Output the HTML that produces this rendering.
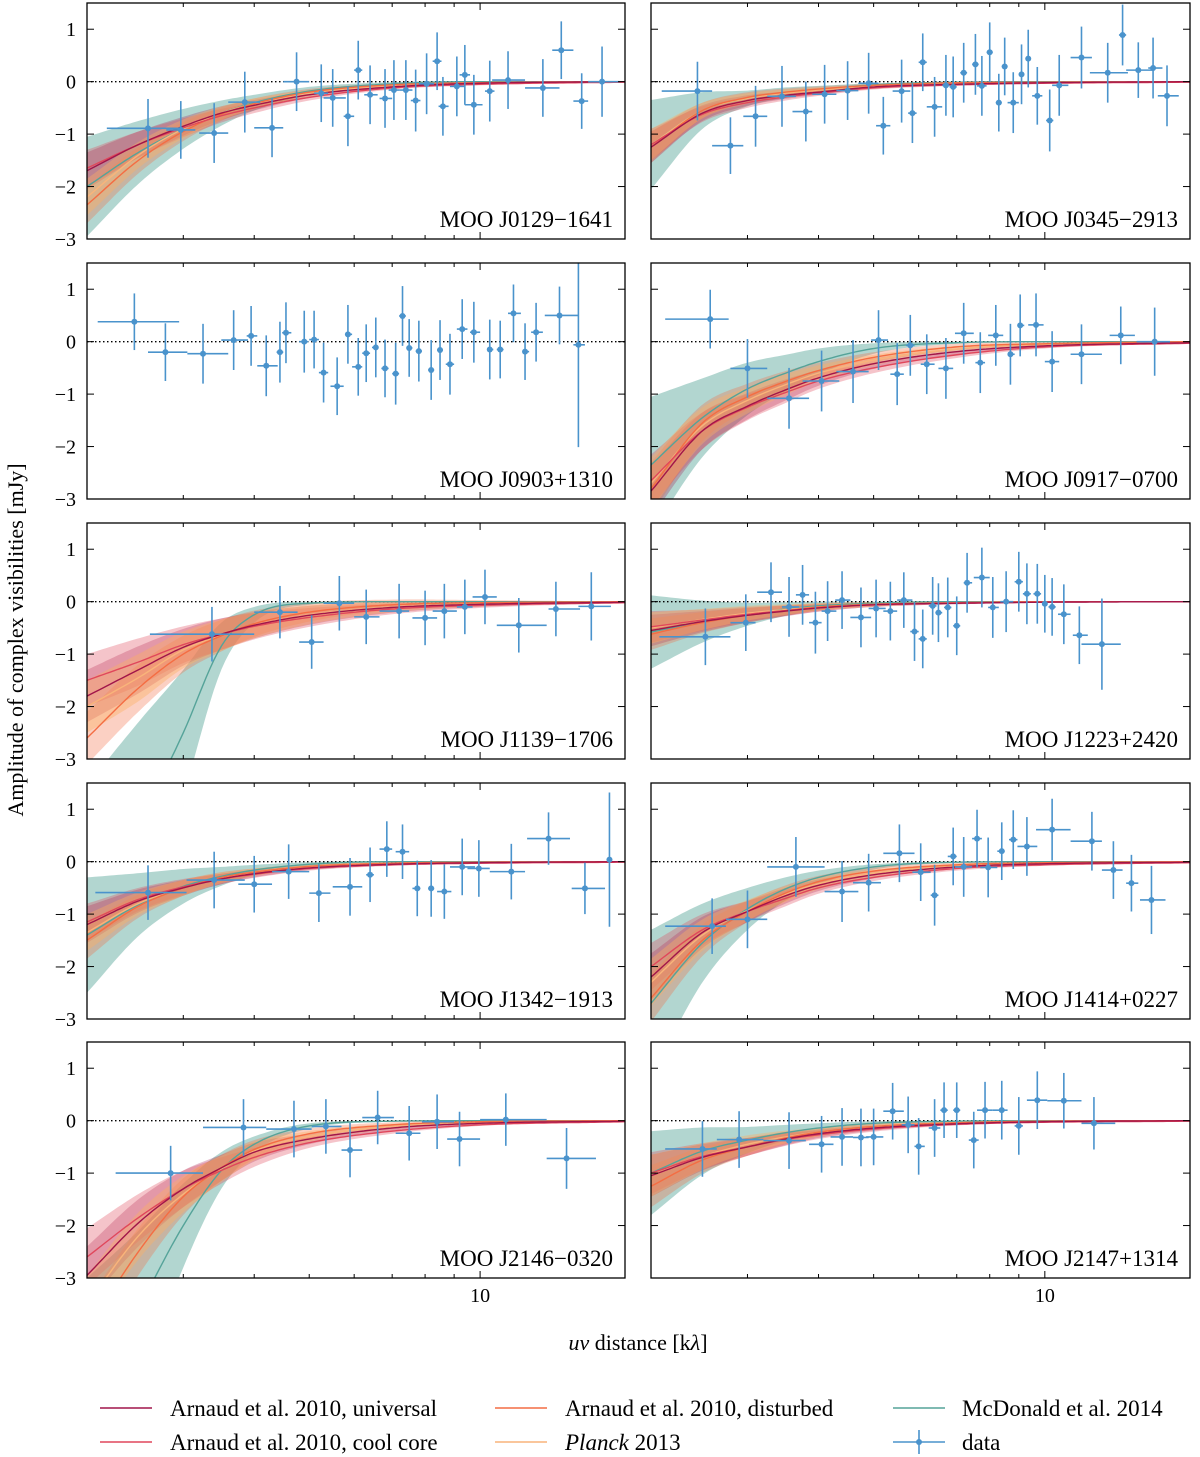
<!DOCTYPE html>
<html><head><meta charset="utf-8">
<style>
html,body{margin:0;padding:0;background:#fff;width:1200px;height:1457px;overflow:hidden;}
svg{display:block;font-family:"Liberation Serif","DejaVu Serif",serif;}
</style></head>
<body>
<svg id="fig" width="1200" height="1457" viewBox="0 0 1200 1457" xmlns="http://www.w3.org/2000/svg">
<defs id="defs"></defs>
<g id="panels"></g>
<text x="0" y="0" transform="translate(23,640) rotate(-90)" text-anchor="middle" font-size="22">Amplitude of complex visibilities [mJy]</text>
<text x="638" y="1350" text-anchor="middle" font-size="22"><tspan font-style="italic">uv</tspan> distance [k<tspan font-style="italic">λ</tspan>]</text>
<g font-size="23">
  <g><line x1="100" y1="1408" x2="152" y2="1408" stroke="#a1154a" stroke-width="1.5"/><text x="170" y="1416">Arnaud et al. 2010, universal</text></g>
  <g><line x1="100" y1="1442" x2="152" y2="1442" stroke="#e0475b" stroke-width="1.5"/><text x="170" y="1450">Arnaud et al. 2010, cool core</text></g>
  <g><line x1="495" y1="1408" x2="547" y2="1408" stroke="#f46d43" stroke-width="1.5"/><text x="565" y="1416">Arnaud et al. 2010, disturbed</text></g>
  <g><line x1="495" y1="1442" x2="547" y2="1442" stroke="#f9b47a" stroke-width="1.5"/><text x="565" y="1450"><tspan font-style="italic">Planck</tspan> 2013</text></g>
  <g><line x1="893" y1="1408" x2="945" y2="1408" stroke="#55a399" stroke-width="1.5"/><text x="962" y="1416">McDonald et al. 2014</text></g>
  <g><line x1="893" y1="1442" x2="945" y2="1442" stroke="#4a93cc" stroke-width="1.6"/><line x1="919" y1="1430" x2="919" y2="1454" stroke="#4a93cc" stroke-width="1.6"/><circle cx="919" cy="1442" r="3" fill="#4a93cc"/><text x="962" y="1450">data</text></g>
</g>
</svg>
<script>
// model grid (uv distance, kλ)
const uGrid=[2.03,2.5,3,3.5,4,5,7,10,18];

// ---- Panel 1: MOO J0129-1641
const u1=[2.6,2.97,3.4,3.85,4.3,4.75,5.25,5.5,5.85,6.1,6.4,6.8,7.05,7.4,7.7,8.05,8.4,8.6,9.1,9.4,9.75,10.4,11.2,12.9,13.9,15.1,16.4];
const y1=[-0.89,-0.92,-0.98,-0.39,-0.88,0.0,-0.22,-0.31,-0.66,0.22,-0.25,-0.32,-0.16,-0.16,-0.36,-0.04,0.39,-0.47,-0.09,0.13,-0.44,-0.18,0.03,-0.12,0.6,-0.37,0.0];
const lo1=[2.2,2.8,3.2,3.6,4.0,4.5,5.1,5.3,5.75,6.0,6.25,6.65,6.9,7.2,7.55,7.8,8.25,8.45,8.85,9.2,9.4,10.2,10.5,12.0,13.4,14.6,15.5];
const hi1=[2.95,3.15,3.6,4.1,4.5,5.0,5.4,5.8,6.0,6.2,6.6,7.0,7.2,7.6,7.85,8.3,8.55,8.8,9.4,9.6,10.1,10.6,12.0,13.8,14.6,15.5,17.6];
const e1=[.56,.55,.57,.58,.56,.56,.55,.55,.57,.56,.56,.56,.57,.57,.59,.58,.55,.56,.57,.57,.57,.58,.55,.55,.55,.53,.67];
const uni1=[-1.7,-1.2,-0.85,-0.6,-0.45,-0.25,-0.1,-0.03,0];
const cc1=[-1.65,-1.2,-0.88,-0.65,-0.5,-0.3,-0.12,-0.05,-0.01];
const dis1=[-2.35,-1.5,-0.95,-0.62,-0.42,-0.2,-0.06,-0.02,0];
const pl1=[-2.2,-1.4,-0.9,-0.6,-0.42,-0.22,-0.07,-0.02,0];
const mcd1=[-2.0,-1.35,-0.9,-0.6,-0.4,-0.18,-0.04,0,0];
const tw1=[0.95,0.6,0.38,0.24,0.15,0.08,0.03,0.01,0];
const ww1=[.35,.25,.18,.13,.1,.06,.03,.02,0];

// ---- Panel 2: MOO J0345-2913
const u2=[2.45,2.8,3.1,3.45,3.8,4.1,4.5,4.9,5.2,5.6,5.85,6.1,6.4,6.7,6.9,7.2,7.55,7.75,8.0,8.3,8.5,8.8,9.1,9.35,9.7,10.2,10.6,11.6,12.9,13.7,14.6,15.5,16.4];
const y2=[-0.18,-1.22,-0.66,-0.28,-0.57,-0.24,-0.17,-0.03,-0.84,-0.18,-0.6,0.37,-0.48,-0.07,-0.1,0.17,0.33,-0.08,0.56,-0.4,0.29,-0.4,0.14,0.44,-0.27,-0.74,-0.07,0.46,0.17,0.89,0.22,0.26,-0.27];
const lo2=[2.12,2.6,2.95,3.25,3.6,3.9,4.3,4.7,5.05,5.4,5.75,6.0,6.2,6.6,6.8,7.1,7.45,7.6,7.9,8.2,8.4,8.6,9.0,9.25,9.5,10.05,10.3,11.1,12.0,13.5,13.9,15.2,15.8];
const hi2=[2.6,2.95,3.25,3.65,3.9,4.3,4.7,5.1,5.35,5.8,5.95,6.2,6.6,6.8,7.0,7.3,7.65,7.9,8.1,8.4,8.6,9.0,9.2,9.45,9.9,10.35,11.0,12.1,14.0,13.9,15.5,16.1,17.2];
const e2=[.56,.54,.58,.58,.57,.56,.56,.58,.55,.6,.57,.55,.57,.58,.58,.57,.58,.57,.57,.55,.55,.58,.57,.55,.55,.59,.58,.59,.57,.58,.53,.58,.58];
const uni2=[-1.25,-0.6,-0.36,-0.26,-0.2,-0.1,-0.05,-0.02,0];
const cc2=[-1.2,-0.62,-0.4,-0.29,-0.22,-0.12,-0.06,-0.03,-0.01];
const dis2=[-1.25,-0.55,-0.3,-0.2,-0.14,-0.07,-0.02,-0.01,0];
const pl2=[-1.2,-0.55,-0.32,-0.22,-0.16,-0.08,-0.03,-0.01,0];
const mcd2=[-1.2,-0.55,-0.32,-0.21,-0.15,-0.06,-0.01,0,0];
const tw2=[.85,.35,.15,.1,.07,.03,.01,0,0];
const ww2=[.3,.15,.1,.07,.05,.03,.02,.01,0];

// ---- Panel 3: MOO J0903+1310 (no models)
const u3=[2.46,2.79,3.25,3.68,3.95,4.2,4.44,4.55,4.9,5.1,5.3,5.6,5.85,6.1,6.3,6.55,6.8,7.1,7.3,7.5,7.8,8.2,8.5,8.85,9.3,9.75,10.4,10.85,11.45,12.0,12.55,13.8,14.9];
const y3=[0.38,-0.2,-0.23,0.03,0.11,-0.46,-0.2,0.17,0.0,0.04,-0.59,-0.85,0.14,-0.48,-0.22,-0.11,-0.51,-0.61,0.49,-0.12,-0.18,-0.54,-0.16,-0.43,0.24,0.18,-0.15,-0.15,0.54,-0.19,0.18,0.5,-0.06];
const lo3=[2.12,2.6,3.05,3.5,3.88,4.05,4.38,4.48,4.8,5.0,5.2,5.45,5.78,5.95,6.2,6.45,6.7,7.0,7.2,7.45,7.7,8.1,8.4,8.7,9.1,9.6,10.3,10.7,11.2,11.9,12.3,13.0,14.6];
const hi3=[2.95,3.05,3.6,3.9,4.05,4.4,4.5,4.65,4.98,5.2,5.4,5.75,5.95,6.2,6.4,6.6,6.9,7.2,7.4,7.6,7.9,8.3,8.6,9.0,9.5,10.0,10.55,11.0,11.8,12.2,12.9,14.9,15.3];
const e3=[.54,.55,.57,.57,.57,.58,.58,.58,.59,.55,.57,.55,.56,.55,.55,.57,.55,.59,.57,.55,.58,.57,.57,.58,.57,.58,.57,.55,.55,.54,.56,.55,1.95];

// ---- Panel 4: MOO J0917-0700
const u4=[2.58,3.0,3.55,4.05,4.6,5.1,5.5,5.8,6.2,6.7,7.2,7.7,8.2,8.7,9.05,9.65,10.3,11.6,13.6,15.6];
const y4=[0.43,-0.51,-1.08,-0.75,-0.57,0.03,-0.62,-0.07,-0.43,-0.51,0.16,-0.4,0.12,-0.24,0.31,0.32,-0.38,-0.24,0.12,0.0];
const lo4=[2.15,2.8,3.25,3.75,4.3,4.95,5.35,5.7,6.05,6.5,6.95,7.55,7.95,8.6,8.95,9.35,10.0,11.1,13.0,14.5];
const hi4=[2.78,3.25,3.85,4.35,4.9,5.3,5.65,5.9,6.4,6.9,7.5,7.85,8.45,8.85,9.2,9.95,10.6,12.6,14.4,16.6];
const e4=[.56,.56,.58,.58,.6,.57,.59,.58,.57,.58,.58,.58,.58,.58,.59,.6,.58,.57,.55,.65];
const uni4=[-2.85,-1.7,-1.23,-0.92,-0.69,-0.42,-0.19,-0.08,-0.02];
const cc4=[-2.65,-1.7,-1.25,-0.97,-0.75,-0.5,-0.25,-0.1,-0.03];
const dis4=[-2.8,-1.55,-1.05,-0.76,-0.55,-0.3,-0.1,-0.04,0];
const pl4=[-2.7,-1.6,-1.12,-0.82,-0.6,-0.35,-0.14,-0.05,0];
const mcd4=[-2.35,-1.45,-0.9,-0.6,-0.38,-0.13,-0.02,0,0];
const tw4=[1.3,.75,.5,.35,.25,.1,.02,0,0];
const ww4=[.5,.35,.25,.2,.15,.1,.06,.03,0];

// ---- Panel 5: MOO J1139-1706
const u5=[3.37,4.44,5.05,5.65,6.3,7.2,8.0,8.65,9.4,10.2,11.7,13.6,15.7];
const y5=[-0.62,-0.2,-0.77,-0.03,-0.29,-0.18,-0.31,-0.18,-0.1,0.09,-0.45,-0.14,-0.09];
const lo5=[2.62,4.0,4.8,5.3,6.0,6.65,7.6,8.25,9.1,9.7,10.7,13.2,14.9];
const hi5=[4.0,4.77,5.3,6.0,6.65,7.5,8.4,9.1,9.7,10.7,13.1,15.0,17.0];
const e5=[.52,.5,.51,.52,.52,.52,.52,.52,.52,.52,.52,.52,.65];
const uni5=[-1.8,-1.3,-0.87,-0.62,-0.45,-0.26,-0.11,-0.05,-0.01];
const cc5=[-1.5,-1.15,-0.82,-0.62,-0.47,-0.3,-0.14,-0.07,-0.02];
const dis5=[-2.6,-1.65,-1.0,-0.65,-0.42,-0.2,-0.06,-0.02,0];
const pl5=[-2.0,-1.45,-0.92,-0.64,-0.45,-0.25,-0.1,-0.04,0];
const mcd5=[-6.5,-4.3,-2.5,-0.85,-0.25,-0.03,0,0,0];
const tw5=[3,2,1.2,0.45,0.15,0.03,0,0,0];
const ww5=[.5,.45,.35,.3,.25,.18,.1,.05,0];

// ---- Panel 6: MOO J1223+2420
const u6=[2.53,2.98,3.3,3.55,3.75,3.95,4.15,4.4,4.75,5.05,5.35,5.65,5.9,6.1,6.35,6.5,6.75,7.0,7.3,7.75,8.1,8.55,9.0,9.3,9.7,10.0,10.3,10.8,11.5,12.6];
const y6=[-0.67,-0.4,0.18,-0.1,0.13,-0.4,-0.18,0.03,-0.3,-0.13,-0.18,0.03,-0.57,-0.71,-0.08,-0.21,-0.11,-0.46,0.36,0.46,-0.11,0.0,0.38,0.15,0.15,-0.04,-0.1,-0.24,-0.64,-0.81];
const lo6=[2.1,2.8,3.12,3.45,3.65,3.85,4.05,4.28,4.55,4.9,5.2,5.5,5.8,6.0,6.25,6.42,6.65,6.9,7.2,7.5,7.95,8.35,8.85,9.15,9.55,9.9,10.15,10.55,11.2,11.6];
const hi6=[2.8,3.1,3.45,3.7,3.85,4.05,4.3,4.55,4.95,5.25,5.5,5.85,6.0,6.2,6.45,6.6,6.85,7.1,7.45,8.0,8.3,8.8,9.15,9.45,9.85,10.1,10.45,11.1,11.9,13.6];
const e6=[.54,.54,.57,.57,.57,.59,.57,.55,.57,.55,.56,.53,.56,.56,.55,.56,.57,.56,.57,.57,.58,.58,.57,.58,.57,.55,.55,.57,.55,.87];
const uni6=[-0.55,-0.38,-0.26,-0.18,-0.12,-0.06,-0.03,-0.01,0];
const cc6=[-0.48,-0.35,-0.24,-0.17,-0.12,-0.06,-0.03,-0.01,0];
const dis6=[-0.62,-0.4,-0.26,-0.17,-0.1,-0.05,-0.02,0,0];
const pl6=[-0.5,-0.34,-0.22,-0.15,-0.1,-0.05,-0.02,0,0];
const mcd6=[-0.58,-0.38,-0.24,-0.14,-0.08,-0.03,0,0,0];
const tw6=[.7,.4,.22,.13,.08,.03,.01,0,0];
const ww6=[.3,.2,.14,.1,.07,.04,.02,.01,0];

// ---- Panel 7: MOO J1342-1913
const u7=[2.6,3.4,4.0,4.6,5.2,5.9,6.4,6.85,7.3,7.75,8.2,8.65,9.3,9.95,11.35,13.2,15.3,16.9];
const y7=[-0.59,-0.35,-0.43,-0.19,-0.6,-0.48,-0.25,0.24,0.19,-0.51,-0.51,-0.57,-0.1,-0.13,-0.19,0.44,-0.51,0.04];
const lo7=[2.1,3.04,3.75,4.3,5.0,5.5,6.3,6.65,7.1,7.6,8.1,8.4,8.85,9.5,10.4,12.1,14.5,16.8];
const hi7=[3.04,3.85,4.3,5.0,5.45,6.2,6.5,7.0,7.5,7.85,8.3,8.9,9.8,10.4,12.0,14.4,16.6,17.0];
const e7=[.52,.54,.54,.52,.55,.55,.52,.53,.52,.53,.54,.52,.54,.54,.53,.5,.49,1.28];
const uni7=[-1.2,-0.75,-0.5,-0.33,-0.23,-0.12,-0.05,-0.02,0];
const cc7=[-1.15,-0.72,-0.48,-0.33,-0.24,-0.13,-0.06,-0.03,-0.01];
const dis7=[-1.5,-0.85,-0.5,-0.3,-0.2,-0.09,-0.03,-0.01,0];
const pl7=[-1.35,-0.8,-0.5,-0.31,-0.2,-0.09,-0.03,-0.01,0];
const mcd7=[-1.4,-0.82,-0.47,-0.28,-0.16,-0.05,0,0,0];
const tw7=[1.1,.6,.33,.18,.1,.04,.01,0,0];
const ww7=[.35,.22,.15,.1,.07,.04,.02,.01,0];

// ---- Panel 8: MOO J1414+0227
const u8=[2.6,3.0,3.65,4.4,4.9,5.55,6.05,6.4,6.9,7.2,7.6,7.95,8.4,8.8,9.3,10.3,12.1,13.2,14.2,15.4];
const y8=[-1.23,-1.1,-0.1,-0.57,-0.4,0.16,-0.2,-0.64,0.1,-0.1,0.44,-0.11,0.2,0.42,0.29,0.61,0.39,-0.16,-0.41,-0.73];
const lo8=[2.15,2.75,3.25,4.1,4.6,5.2,5.85,6.3,6.75,6.95,7.45,7.7,8.25,8.65,8.95,9.65,11.1,12.6,13.9,14.7];
const hi8=[2.75,3.25,4.1,4.7,5.15,5.9,6.3,6.5,7.0,7.45,7.75,8.25,8.5,8.95,9.7,11.1,12.6,13.7,14.6,16.3];
const e8=[.53,.55,.57,.58,.55,.55,.55,.58,.55,.57,.55,.57,.55,.56,.56,.59,.56,.55,.54,.65];
const uni8=[-2.2,-1.35,-0.95,-0.65,-0.45,-0.25,-0.1,-0.04,-0.01];
const cc8=[-2.0,-1.3,-0.95,-0.7,-0.5,-0.3,-0.13,-0.06,-0.02];
const dis8=[-2.6,-1.5,-0.95,-0.6,-0.38,-0.18,-0.06,-0.02,0];
const pl8=[-2.3,-1.4,-0.93,-0.62,-0.42,-0.22,-0.08,-0.03,0];
const mcd8=[-2.7,-1.55,-0.9,-0.52,-0.3,-0.1,-0.01,0,0];
const tw8=[1.4,.75,.4,.22,.13,.05,.01,0,0];
const ww8=[.45,.3,.2,.15,.11,.07,.04,.02,0];

// ---- Panel 9: MOO J2146-0320
const u9=[2.85,3.83,4.7,5.35,5.9,6.6,7.5,8.4,9.2,11.1,14.2];
const y9=[-1.0,-0.13,-0.16,-0.11,-0.56,0.06,-0.24,-0.02,-0.35,0.02,-0.72];
const lo9=[2.28,3.25,4.2,5.05,5.7,6.2,7.1,7.9,8.75,10.0,13.1];
const hi9=[3.25,4.2,5.05,5.7,6.2,7.05,7.85,9.0,10.0,13.1,16.0];
const e9=[.52,.54,.54,.52,.52,.51,.52,.52,.52,.5,.58];
const uni9=[-2.95,-1.95,-1.3,-0.9,-0.6,-0.35,-0.14,-0.05,-0.01];
const cc9=[-2.6,-1.85,-1.3,-0.95,-0.7,-0.42,-0.2,-0.08,-0.02];
const dis9=[-4.0,-2.5,-1.45,-0.9,-0.55,-0.25,-0.08,-0.02,0];
const pl9=[-3.5,-2.2,-1.4,-0.92,-0.58,-0.3,-0.11,-0.04,0];
const mcd9=[-5.5,-3.6,-2.0,-0.95,-0.45,-0.1,-0.01,0,0];
const tw9=[2.5,1.5,0.8,0.35,0.15,0.05,0.01,0,0];
const ww9=[.55,.45,.35,.25,.18,.1,.05,.02,0];

// ---- Panel 10: MOO J2147+1314
const u10=[2.5,2.9,3.55,4.05,4.4,4.75,5.0,5.4,5.75,6.0,6.4,6.65,7.0,7.5,7.85,8.4,9.0,9.7,10.8,12.2];
const y10=[-0.54,-0.36,-0.38,-0.45,-0.31,-0.32,-0.31,0.18,-0.08,-0.49,-0.14,0.2,0.2,-0.37,0.2,0.2,-0.1,0.39,0.38,-0.05];
const lo10=[2.15,2.65,3.2,3.85,4.2,4.6,4.85,5.2,5.6,5.9,6.25,6.55,6.9,7.35,7.6,8.1,8.85,9.3,10.1,11.6];
const hi10=[2.65,3.2,3.8,4.25,4.6,4.9,5.2,5.65,5.9,6.15,6.55,6.75,7.1,7.65,8.1,8.6,9.15,10.1,11.6,13.3];
const e10=[.53,.54,.54,.54,.55,.55,.54,.54,.54,.54,.55,.53,.53,.54,.54,.56,.55,.55,.53,.5];
const uni10=[-1.05,-0.7,-0.5,-0.35,-0.25,-0.14,-0.06,-0.02,0];
const cc10=[-1.0,-0.68,-0.5,-0.36,-0.27,-0.16,-0.07,-0.03,-0.01];
const dis10=[-1.25,-0.75,-0.5,-0.33,-0.22,-0.11,-0.04,-0.01,0];
const pl10=[-1.05,-0.68,-0.45,-0.31,-0.22,-0.11,-0.04,-0.01,0];
const mcd10=[-1.0,-0.58,-0.37,-0.23,-0.14,-0.05,-0.01,0,0];
const tw10=[.8,.45,.25,.15,.09,.04,.01,0,0];
const ww10=[.4,.25,.17,.12,.08,.05,.02,.01,0];

const yTicks=[1,0,-1,-2,-3];
const yTickLabels=["1","0","\u22121","\u22122","\u22123"];
const xMinorTicks=[3,4,5,6,7,8,9];
const xMajorTicks=[10];
const xTickLabels=["10"];

const panelNames=["MOO J0129\u22121641","MOO J0345\u22122913","MOO J0903+1310","MOO J0917\u22120700","MOO J1139\u22121706","MOO J1223+2420","MOO J1342\u22121913","MOO J1414+0227","MOO J2146\u22120320","MOO J2147+1314"];
const panelData=[
 [u1,y1,lo1,hi1,e1,[uni1,cc1,dis1,pl1,mcd1],tw1,ww1],
 [u2,y2,lo2,hi2,e2,[uni2,cc2,dis2,pl2,mcd2],tw2,ww2],
 [u3,y3,lo3,hi3,e3,null,null,null],
 [u4,y4,lo4,hi4,e4,[uni4,cc4,dis4,pl4,mcd4],tw4,ww4],
 [u5,y5,lo5,hi5,e5,[uni5,cc5,dis5,pl5,mcd5],tw5,ww5],
 [u6,y6,lo6,hi6,e6,[uni6,cc6,dis6,pl6,mcd6],tw6,ww6],
 [u7,y7,lo7,hi7,e7,[uni7,cc7,dis7,pl7,mcd7],tw7,ww7],
 [u8,y8,lo8,hi8,e8,[uni8,cc8,dis8,pl8,mcd8],tw8,ww8],
 [u9,y9,lo9,hi9,e9,[uni9,cc9,dis9,pl9,mcd9],tw9,ww9],
 [u10,y10,lo10,hi10,e10,[uni10,cc10,dis10,pl10,mcd10],tw10,ww10]
];

const modelNames=["universal","cool-core","disturbed","planck","mcdonald"];
const lineColors=["#a1154a","#e0475b","#f46d43","#f9b47a","#55a399"];
const bandColors=["#a1154a","#e0475b","#f46d43","#fdae61","#7fbab1"];
const bandOpacity=[0.28,0.32,0.32,0.4,0.6];

const NS="http://www.w3.org/2000/svg";
const U_MIN=2.03,U_MAX=18,Y_MIN=-3,Y_MAX=1.5;
const rowTops=[3,263,523,783,1042],PH=236;
const colX=[[87,625],[651,1190]];

function mk(tag,attrs,parent){const el=document.createElementNS(NS,tag);for(const k in attrs)el.setAttribute(k,attrs[k]);if(parent)parent.appendChild(el);return el;}

function monotone(xs,ys){
  const n=xs.length,d=[],m=new Array(n);
  for(let i=0;i<n-1;i++)d.push((ys[i+1]-ys[i])/(xs[i+1]-xs[i]));
  m[0]=d[0];m[n-1]=d[n-2];
  for(let i=1;i<n-1;i++){m[i]=(d[i-1]*d[i]<=0)?0:(d[i-1]+d[i])/2;}
  for(let i=0;i<n-1;i++){if(d[i]===0){m[i]=0;m[i+1]=0;continue;}const a=m[i]/d[i],b=m[i+1]/d[i],s=a*a+b*b;if(s>9){const t=3/Math.sqrt(s);m[i]=t*a*d[i];m[i+1]=t*b*d[i];}}
  return function(x){let i=0;while(i<n-2&&x>xs[i+1])i++;const h=xs[i+1]-xs[i],t=(x-xs[i])/h,t2=t*t,t3=t2*t;
    return (2*t3-3*t2+1)*ys[i]+(t3-2*t2+t)*h*m[i]+(-2*t3+3*t2)*ys[i+1]+(t3-t2)*h*m[i+1];};
}

const lgGrid=uGrid.map(u=>Math.log10(u));
const root=document.getElementById('panels');
const defs=document.getElementById('defs');

panelData.forEach((pd,idx)=>{
  const col=idx%2,row=Math.floor(idx/2);
  const x0=colX[col][0],x1=colX[col][1],y0=rowTops[row];
  const xs=u=>x0+(Math.log10(u)-Math.log10(U_MIN))/(Math.log10(U_MAX)-Math.log10(U_MIN))*(x1-x0);
  const ys=v=>y0+(Y_MAX-v)/(Y_MAX-Y_MIN)*PH;
  const g=mk('g',{},root);
  
  
  const cp=mk('clipPath',{id:'clip'+idx},defs);
  mk('rect',{x:x0,y:y0,width:x1-x0,height:PH},cp);
  const inner=mk('g',{'clip-path':'url(#clip'+idx+')'},g);
  const [uu,yy,lo,hi,ee,models,tw,ww]=pd;
  const N=140,lmin=Math.log10(U_MIN),lmax=Math.log10(U_MAX);
  const samp=[];for(let i=0;i<=N;i++)samp.push(lmin+(lmax-lmin)*i/N);
  if(models){
    const ftw=monotone(lgGrid,tw),fww=monotone(lgGrid,ww);
    [4,0,1,2,3].forEach(mi=>{
      const f=monotone(lgGrid,models[mi]);const wf=mi===4?ftw:fww;
      let up=[],dn=[];
      samp.forEach(l=>{const u=Math.pow(10,l),v=f(l),w=Math.max(0,wf(l));up.push(xs(u).toFixed(1)+','+ys(Math.max(-8,v+w)).toFixed(1));dn.push(xs(u).toFixed(1)+','+ys(Math.max(-8,v-w)).toFixed(1));});
      const p=mk('polygon',{points:up.concat(dn.reverse()).join(' '),fill:bandColors[mi],'fill-opacity':bandOpacity[mi],stroke:'none'},inner);
      
      
    });
  }
  const zl=mk('line',{x1:x0,x2:x1,y1:ys(0),y2:ys(0),stroke:'#000','stroke-width':1.3,'stroke-dasharray':'1.5,2.5'},inner);
  
  
  if(models){
    [4,3,2,1,0].forEach(mi=>{
      const f=monotone(lgGrid,models[mi]);
      const pts=samp.map(l=>xs(Math.pow(10,l)).toFixed(1)+','+ys(Math.max(-8,f(l))).toFixed(1));
      const pl=mk('polyline',{points:pts.join(' '),fill:'none',stroke:lineColors[mi],'stroke-width':1.4},inner);
      
      
    });
  }
  const n=Math.min(uu.length,yy.length,lo.length,hi.length,ee.length);
  for(let i=0;i<n;i++){
    const pg=mk('g',{stroke:'#4a93cc','stroke-width':1.6},inner);
    
    
    mk('line',{x1:xs(lo[i]),x2:xs(hi[i]),y1:ys(yy[i]),y2:ys(yy[i])},pg);
    mk('line',{x1:xs(uu[i]),x2:xs(uu[i]),y1:ys(yy[i]+ee[i]),y2:ys(yy[i]-ee[i])},pg);
    mk('circle',{cx:xs(uu[i]),cy:ys(yy[i]),r:3,fill:'#4a93cc',stroke:'none'},pg);
  }
  const fr=mk('rect',{x:x0,y:y0,width:x1-x0,height:PH,fill:'none',stroke:'#000','stroke-width':1.3},g);
  
  
  yTicks.forEach((t,i)=>{
    const y=ys(t);
    mk('line',{x1:x0,x2:x0+7,y1:y,y2:y,stroke:'#000','stroke-width':1},g);
    mk('line',{x1:x1-7,x2:x1,y1:y,y2:y,stroke:'#000','stroke-width':1},g);
    if(col===0){const tl=mk('text',{x:x0-11,y:y+7,'text-anchor':'end','font-size':20},g);tl.textContent=yTickLabels[i];
      
      }
  });
  xMinorTicks.forEach(t=>{const x=xs(t);
    mk('line',{x1:x,x2:x,y1:y0,y2:y0+4,stroke:'#000','stroke-width':1},g);
    mk('line',{x1:x,x2:x,y1:y0+PH-4,y2:y0+PH,stroke:'#000','stroke-width':1},g);});
  xMajorTicks.forEach((t,i)=>{const x=xs(t);
    mk('line',{x1:x,x2:x,y1:y0,y2:y0+7,stroke:'#000','stroke-width':1},g);
    mk('line',{x1:x,x2:x,y1:y0+PH-7,y2:y0+PH,stroke:'#000','stroke-width':1},g);
    if(row===4){const tl=mk('text',{x:x,y:y0+PH+24,'text-anchor':'middle','font-size':20},g);tl.textContent=xTickLabels[i];
      
      }
  });
  const title=mk('text',{x:x1-12,y:y0+PH-12,'text-anchor':'end','font-size':23},g);
  title.textContent=panelNames[idx];
  
  
});
</script>
</body></html>
